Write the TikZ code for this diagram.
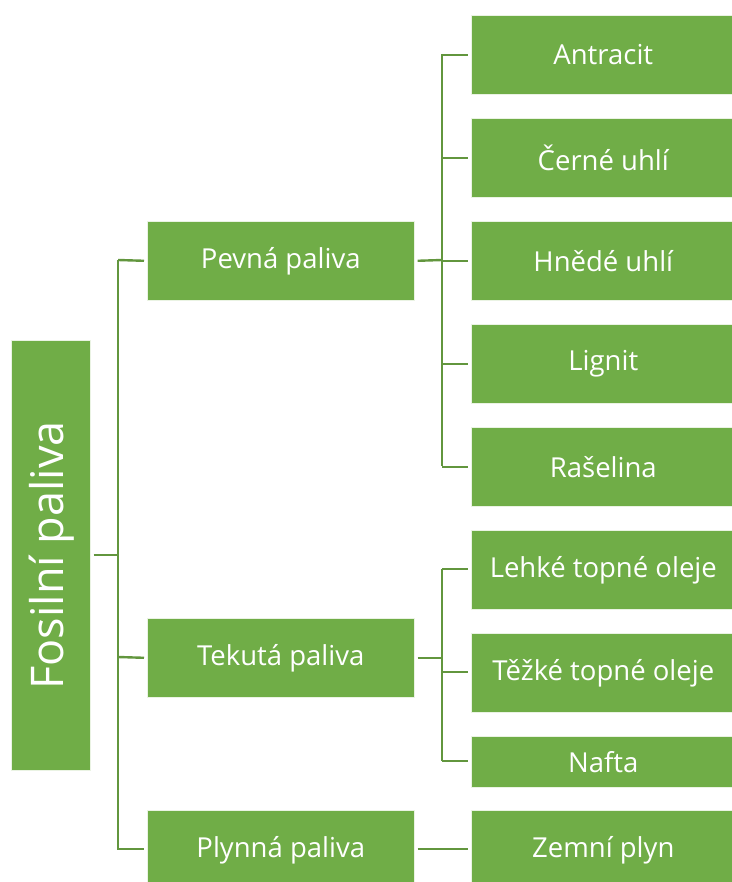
\documentclass[tikz,border=0pt]{standalone}
\usepackage{fontspec}
\setmainfont{Open Sans}
\definecolor{boxgreen}{HTML}{70AD47}
\definecolor{linegreen}{RGB}{98,150,62}
\begin{document}
\begin{tikzpicture}[x=1pt,y=-1pt,
  box/.style={draw=white!85!boxgreen,line width=0.6pt,fill=boxgreen,text=white,inner sep=0pt,anchor=north west,font=\fontsize{27.5}{32}\selectfont},
  conn/.style={draw=linegreen,line width=2.4pt}]
\useasboundingbox (0,0) rectangle (731,882);
% root
\node[box,minimum width=79pt,minimum height=430pt] (root) at (11,340) {};
\node[text=white,rotate=90,font=\fontsize{45}{50}\selectfont] (roott) at ([xshift=1pt]root.center) {Fosilní paliva};
% level 1
\node[box,minimum width=267pt,minimum height=79pt] (pevna) at (147,221) {Pevná paliva};
\node[box,minimum width=267pt,minimum height=79pt] (tekuta) at (147,618) {Tekutá paliva};
\node[box,minimum width=267pt,minimum height=79pt] (plynna) at (147,810) {Plynná paliva};
% level 2
\node[box,minimum width=264pt,minimum height=79pt] (antracit) at (471,15) {Antracit};
\node[box,minimum width=264pt,minimum height=79pt] (cerne) at (471,118) {Černé uhlí};
\node[box,minimum width=264pt,minimum height=79pt] (hnede) at (471,221) {Hnědé uhlí};
\node[box,minimum width=264pt,minimum height=79pt] (lignit) at (471,324) {Lignit};
\node[box,minimum width=264pt,minimum height=79pt] (raselina) at (471,427) {Rašelina};
\node[box,minimum width=264pt,minimum height=79pt] (lehke) at (471,530) {Lehké topné oleje};
\node[box,minimum width=264pt,minimum height=79pt] (tezke) at (471,633) {Těžké topné oleje};
\node[box,minimum width=264pt,minimum height=51pt] (nafta) at (471,736) {Nafta};
\node[box,minimum width=264pt,minimum height=79pt] (zemni) at (471,810) {Zemní plyn};
% junction coordinates
\coordinate (j0) at (118,555);
\coordinate (j1) at (442,260);
\coordinate (j2) at (442,658);
% connectors root
\draw[conn] ([xshift=3pt]root.east |- j0) -- (j0);
\draw[conn] (118,260) -- (118,850);
\draw[conn] (118,260) -- ([xshift=-3pt]pevna.west);
\draw[conn] (118,657) -- ([xshift=-3pt]tekuta.west);
\draw[conn] (118,849) -- ([xshift=-3pt]plynna.west |- 0,849);
% pevna
\draw[conn] ([xshift=3pt]pevna.east) -- (j1);
\draw[conn] (442,54) -- (442,466);
\foreach \n in {antracit,cerne,hnede,lignit,raselina}
  \draw[conn] (442,0 |- \n.west) -- ([xshift=-3pt]\n.west);
% tekuta
\draw[conn] ([xshift=3pt]tekuta.east |- j2) -- (j2);
\draw[conn] (442,569) -- (442,761);
\draw[conn] (442,569) -- ([xshift=-3pt]lehke.west |- 0,569);
\draw[conn] (442,672) -- ([xshift=-3pt]tezke.west |- 0,672);
\draw[conn] (442,761) -- ([xshift=-3pt]nafta.west |- 0,761);
% plynna
\draw[conn] ([xshift=3pt]plynna.east |- 0,849) -- ([xshift=-3pt]zemni.west |- 0,849);
\end{tikzpicture}
\end{document}
